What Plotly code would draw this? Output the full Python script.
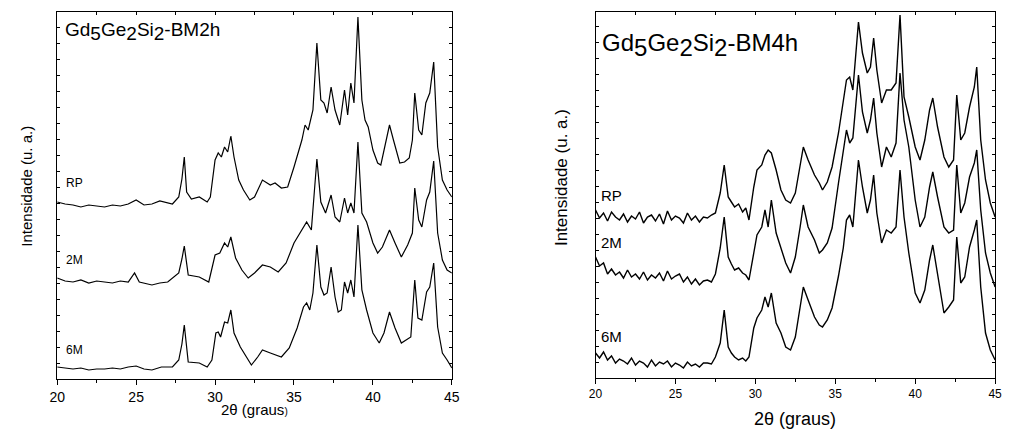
import plotly.graph_objects as go

# ---------------- Data: left panel (Gd5Ge2Si2-BM2h) ----------------
x_bm2h_rp = [20, 20.5, 21, 21.5, 22, 22.5, 23, 23.5, 24, 24.5, 25, 25.5, 26, 26.5, 27, 27.3, 27.7, 27.9, 28.05, 28.2,
             28.5, 29, 29.5, 29.7, 30, 30.2, 30.4, 30.6, 30.8, 31, 31.2, 31.5, 31.8, 32.2, 32.5, 33, 33.5, 33.8, 34.2, 34.6,
             35, 35.5, 35.7, 35.9, 36.2, 36.45, 36.7, 36.9, 37.1, 37.35, 37.6, 37.9, 38.2, 38.4, 38.6, 38.8, 39.05, 39.3, 39.5, 39.7,
             40, 40.3, 40.5, 40.8, 41.05, 41.3, 41.7, 42, 42.3, 42.5, 42.65, 42.9, 43.1, 43.35, 43.6, 43.85, 44.1, 44.4, 44.7, 45]
y_bm2h_rp = [177, 175, 174, 172, 174, 173, 172, 174, 173, 175, 179, 174, 175, 178, 176, 175, 182, 200, 222, 187,
             180, 182, 177, 182, 219, 226, 222, 232, 227, 243, 222, 199, 189, 179, 182, 199, 194, 196, 191, 192,
             212, 239, 254, 249, 269, 336, 279, 276, 266, 292, 269, 254, 289, 264, 296, 276, 362, 279, 259, 252,
             229, 216, 214, 236, 254, 239, 216, 217, 221, 239, 286, 249, 244, 276, 286, 317, 232, 199, 189, 182]

x_bm2h_2m = [20, 20.5, 21, 21.5, 22, 22.5, 23, 23.5, 24, 24.5, 24.9, 25.2, 26, 26.5, 27, 27.7, 27.9, 28.05, 28.3, 29,
             29.6, 30, 30.3, 30.6, 30.8, 31, 31.3, 31.7, 32.1, 32.5, 33, 33.5, 34, 34.5, 35, 35.5, 35.8, 36.1, 36.45, 36.7,
             37, 37.35, 37.6, 37.9, 38.2, 38.4, 38.6, 38.8, 39.05, 39.3, 39.6, 40, 40.3, 40.6, 41.05, 41.4, 41.8, 42.2, 42.5, 42.65,
             42.9, 43.1, 43.4, 43.6, 43.85, 44.1, 44.4, 44.7, 45]
y_bm2h_2m = [101, 98, 97, 99, 96, 98, 97, 96, 98, 97, 106, 97, 94, 96, 97, 106, 120, 133, 104, 102,
             97, 124, 126, 136, 132, 142, 121, 109, 101, 106, 114, 112, 107, 116, 136, 149, 157, 149, 220, 177,
             166, 184, 162, 157, 181, 166, 176, 166, 237, 166, 157, 136, 126, 132, 149, 136, 122, 134, 146, 191,
             159, 152, 179, 187, 218, 146, 119, 109, 106]

x_bm2h_6m = [20, 20.5, 21, 21.5, 22, 22.5, 23, 23.5, 24, 24.5, 25, 25.5, 26, 26.6, 27.3, 27.7, 27.9, 28.05, 28.3, 29,
             29.5, 29.8, 30.05, 30.2, 30.35, 30.6, 30.8, 31, 31.2, 31.6, 32, 32.3, 32.7, 33, 33.5, 33.8, 34.2, 34.7, 35.2, 35.6,
             35.8, 36, 36.2, 36.45, 36.7, 36.9, 37.1, 37.35, 37.6, 37.8, 38, 38.2, 38.4, 38.6, 38.8, 39.05, 39.3, 39.6, 40, 40.4,
             40.7, 41.05, 41.4, 41.8, 42.1, 42.4, 42.65, 42.85, 43.1, 43.4, 43.6, 43.85, 44.1, 44.4, 44.7, 45]
y_bm2h_6m = [12, 11, 10, 11, 9, 10, 10, 11, 10, 12, 13, 10, 9, 12, 12, 19, 35, 54, 17, 16,
             12, 19, 46, 47, 42, 57, 56, 69, 46, 32, 21, 14, 22, 29, 26, 24, 22, 31, 51, 72,
             76, 69, 86, 134, 92, 84, 86, 112, 82, 67, 69, 97, 86, 99, 82, 154, 89, 69, 46, 36,
             46, 67, 51, 36, 39, 42, 99, 61, 59, 87, 92, 116, 52, 26, 19, 11]

# ---------------- Data: right panel (Gd5Ge2Si2-BM4h) ----------------
x_bm4h = [20, 20.25, 20.5, 20.75, 21, 21.25, 21.5, 21.75, 22, 22.25, 22.5, 22.75, 23, 23.25, 23.5, 23.75, 24, 24.25,
          24.5, 24.75, 25, 25.25, 25.5, 25.75, 26, 26.25, 26.5, 26.75, 27, 27.25, 27.5, 27.8, 28.05, 28.3, 28.5, 28.7,
          28.95, 29.2, 29.4, 29.6, 29.9, 30.1, 30.4, 30.6, 30.8, 31, 31.3, 31.6, 31.9, 32.2, 32.5, 32.8, 33, 33.3,
          33.7, 34, 34.2, 34.5, 34.8, 35.2, 35.5, 35.7, 35.9, 36.1, 36.45, 36.7, 37, 37.2, 37.4, 37.6, 37.9, 38.2,
          38.5, 38.8, 39.05, 39.3, 39.6, 40, 40.3, 40.6, 40.9, 41.1, 41.4, 41.8, 42.1, 42.4, 42.6, 42.85, 43.1, 43.4,
          43.7, 43.85, 44.1, 44.4, 44.7, 45]
y_bm4h_rp = [168, 160, 165, 157, 166, 161, 158, 164, 156, 162, 159, 166, 155, 161, 163, 157, 164, 154,
             167, 158, 162, 160, 155, 165, 158, 162, 156, 161, 160, 163, 165, 185, 213, 181, 176, 171,
             174, 166, 170, 158, 191, 208, 213, 223, 228, 225, 208, 188, 178, 175, 185, 215, 231, 218,
             203, 195, 188, 196, 211, 245, 278, 298, 301, 288, 356, 325, 305, 311, 340, 308, 275, 288,
             288, 295, 363, 281, 261, 231, 218, 238, 268, 280, 251, 221, 211, 218, 283, 238, 245, 271,
             291, 311, 238, 198, 175, 161]
y_bm4h_2m = [121, 112, 115, 104, 109, 103, 106, 100, 108, 101, 104, 99, 106, 98, 103, 100, 105, 97,
             107, 99, 102, 104, 96, 101, 94, 99, 93, 97, 98, 96, 104, 130, 161, 121, 114, 108,
             110, 105, 103, 98, 125, 143, 151, 168, 151, 178, 145, 131, 115, 105, 121, 151, 173, 151,
             138, 125, 128, 135, 150, 195, 225, 248, 235, 240, 303, 266, 245, 258, 280, 245, 211, 231,
             221, 235, 305, 258, 231, 178, 151, 161, 191, 206, 181, 151, 145, 148, 213, 165, 175, 201,
             215, 228, 168, 125, 105, 91]
y_bm4h_6m = [25, 20, 26, 18, 22, 15, 19, 17, 14, 20, 13, 17, 15, 11, 18, 12, 16, 14,
             17, 11, 15, 13, 10, 16, 12, 14, 11, 15, 15, 14, 21, 35, 68, 31, 25, 21,
             18, 20, 17, 21, 50, 60, 68, 81, 71, 85, 55, 45, 31, 28, 41, 71, 91, 78,
             61, 53, 51, 58, 70, 102, 130, 158, 163, 151, 218, 191, 165, 178, 203, 165, 135, 148,
             145, 151, 208, 161, 125, 85, 75, 88, 118, 133, 105, 65, 71, 78, 141, 95, 101, 131,
             148, 158, 91, 45, 28, 18]

sample_labels = ["RP", "2M", "6M"]
x_ticks = [20, 25, 30, 35, 40, 45]

FONT = "Liberation Sans, Arial, Helvetica, sans-serif"
W, H = 1010, 431

def px_x(p):
    return p / W

def px_y(p):
    return 1 - p / H

fig = go.Figure()

left_series = [(x_bm2h_rp, y_bm2h_rp), (x_bm2h_2m, y_bm2h_2m), (x_bm2h_6m, y_bm2h_6m)]
right_series = [(x_bm4h, y_bm4h_rp), (x_bm4h, y_bm4h_2m), (x_bm4h, y_bm4h_6m)]

for (xs, ys), name in zip(left_series, sample_labels):
    assert len(xs) == len(ys)
    fig.add_trace(go.Scatter(x=xs, y=ys, mode="lines", name=name, xaxis="x", yaxis="y",
                             line=dict(color="black", width=1.2), showlegend=False))
for (xs, ys), name in zip(right_series, sample_labels):
    assert len(xs) == len(ys)
    fig.add_trace(go.Scatter(x=xs, y=ys, mode="lines", name=name, xaxis="x2", yaxis="y2",
                             line=dict(color="black", width=1.4), showlegend=False))

dom_l = [px_x(50), px_x(451)]
dom_r = [px_x(597), px_x(1003)]
ydom_l = [px_y(379), px_y(12)]
ydom_r = [px_y(378), px_y(12)]

common_x = dict(range=[20, 45], showgrid=False, zeroline=False, showline=True, linecolor="black",
                linewidth=1, mirror=True, ticks="outside", tickcolor="black", ticklen=5, tickwidth=1,
                tickvals=x_ticks, minor=dict(ticks="outside", dtick=2.5, tick0=20, ticklen=3, tickcolor="black"))
common_y = dict(showgrid=False, zeroline=False, showline=True, linecolor="black", linewidth=1,
                mirror="ticks", ticks="inside", ticklen=3, tickcolor="black", dtick=16, tick0=0,
                showticklabels=False)

fig.update_layout(
    width=W, height=H, margin=dict(l=0, r=0, t=0, b=0), autosize=False,
    paper_bgcolor="white", plot_bgcolor="white",
    font=dict(family=FONT, color="black"),
    xaxis=dict(domain=dom_l, anchor="y", tickfont=dict(size=14), **common_x),
    yaxis=dict(domain=ydom_l, anchor="x", range=[0, 367], **common_y),
    xaxis2=dict(domain=dom_r, anchor="y2", tickfont=dict(size=12), **common_x),
    yaxis2=dict(domain=ydom_r, anchor="x2", range=[0, 366], **common_y),
    xaxis3=dict(domain=dom_l, anchor="y", overlaying="x", side="top", range=[20, 45], showgrid=False,
                zeroline=False, ticks="inside", ticklen=3, dtick=2.5, tick0=20, tickcolor="black",
                showticklabels=False, showline=False),
    xaxis4=dict(domain=dom_r, anchor="y2", overlaying="x2", side="top", range=[20, 45], showgrid=False,
                zeroline=False, ticks="inside", ticklen=3, dtick=2.5, tick0=20, tickcolor="black",
                showticklabels=False, showline=False),
)
# invisible traces so the top tick axes render
fig.add_trace(go.Scatter(x=[20], y=[0], xaxis="x3", yaxis="y", mode="markers",
                         marker=dict(opacity=0), showlegend=False, hoverinfo="skip"))
fig.add_trace(go.Scatter(x=[20], y=[0], xaxis="x4", yaxis="y2", mode="markers",
                         marker=dict(opacity=0), showlegend=False, hoverinfo="skip"))

def sub(d, size):
    return "<sub><span style='font-size:%dpx'>%s</span></sub>" % (size, d)

ann = []
ann.append(dict(x=px_x(56), y=px_y(31), xanchor="left", yanchor="middle",
                text="Gd" + sub("5", 19) + "Ge" + sub("2", 19) + "Si" + sub("2", 19) + "-BM2h",
                font=dict(size=19)))
ann.append(dict(x=px_x(602), y=px_y(45), xanchor="left", yanchor="middle",
                text="Gd" + sub("5", 24) + "Ge" + sub("2", 24) + "Si" + sub("2", 24) + "-BM4h",
                font=dict(size=24)))
for lab, yy in zip(sample_labels, [183, 260, 350]):
    ann.append(dict(x=px_x(57), y=px_y(yy), xanchor="left", yanchor="middle", text=lab,
                    font=dict(size=12)))
for lab, yy in zip(sample_labels, [195, 242, 336]):
    ann.append(dict(x=px_x(601), y=px_y(yy), xanchor="left", yanchor="middle", text=lab,
                    font=dict(size=15)))
ann.append(dict(x=px_x(250), y=px_y(409), xanchor="center", yanchor="middle",
                text="2θ (graus<span style='font-size:10px'>)</span>", font=dict(size=15)))
ann.append(dict(x=px_x(800), y=px_y(419), xanchor="center", yanchor="middle",
                text="2θ (graus)", font=dict(size=18)))
ann.append(dict(x=px_x(18), y=px_y(186), xanchor="center", yanchor="middle", textangle=-90,
                text="Intensidade (u. a.)", font=dict(size=15)))
ann.append(dict(x=px_x(562), y=px_y(178), xanchor="center", yanchor="middle", textangle=-90,
                text="Intensidade (u. a.)", font=dict(size=17)))

for a in ann:
    a.update(xref="paper", yref="paper", showarrow=False)
fig.update_layout(annotations=ann)

fig.write_html("out.html", config={"responsive": False, "displayModeBar": False},
               post_script="document.body.style.margin='0';document.body.style.overflow='hidden';")
